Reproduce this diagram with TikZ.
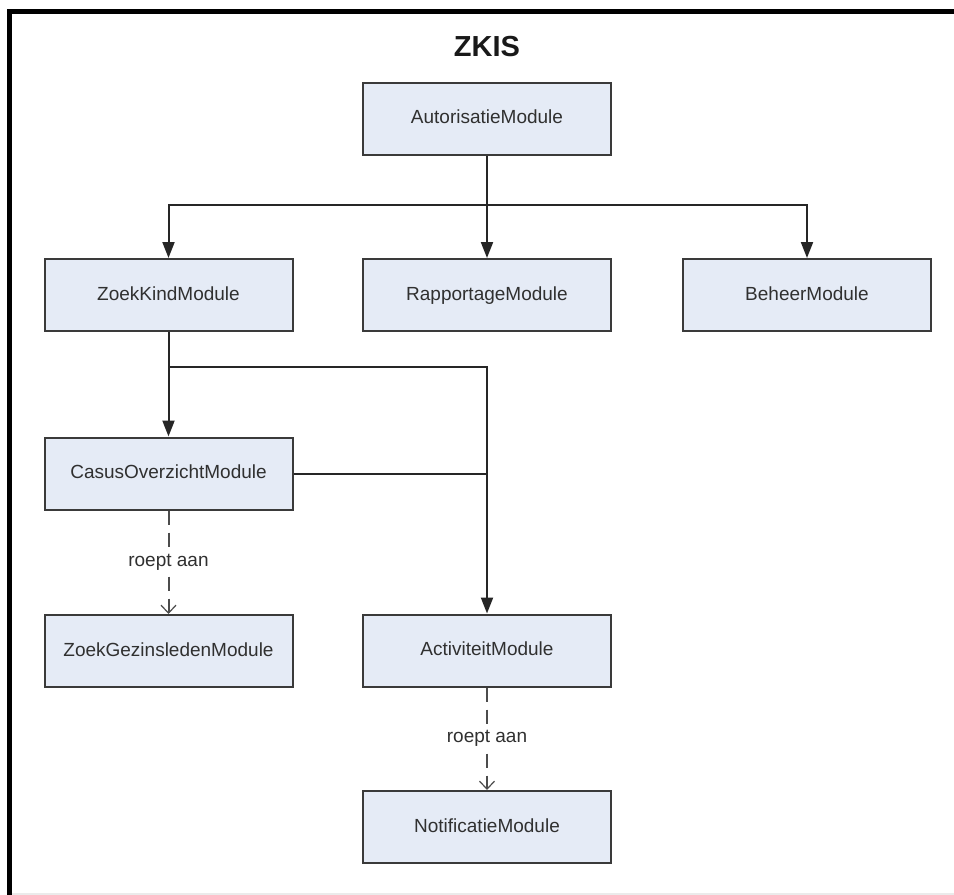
\documentclass[tikz,border=0pt]{standalone}
\usepackage{fontspec}
\setmainfont{Liberation Sans}
\usetikzlibrary{arrows.meta}
\definecolor{boxfill}{HTML}{E5EBF6}
\definecolor{boxline}{HTML}{3A3A3A}
\definecolor{txt}{HTML}{303030}
\tikzset{
  module/.style={draw=boxline, line width=2pt, fill=boxfill, rectangle,
    minimum width=248pt, minimum height=72pt, inner sep=0pt,
    text height=14pt, text depth=4pt,
    font=\fontsize{19}{22}\selectfont, text=txt},
  link/.style={draw=black!85, line width=2pt},
  arr/.style={link, -{Triangle[length=16pt,width=12pt]}},
  callarr/.style={draw=black!70, line width=2pt, dash pattern=on 14pt off 8pt,
    -{Straight Barb[length=8pt,width=15pt,line width=1.2pt]}},
  lbl/.style={fill=white, inner sep=3pt, font=\fontsize{19}{22}\selectfont, text=txt},
}
\begin{document}
\begin{tikzpicture}[x=1pt,y=-1pt]
\useasboundingbox (0,0) rectangle (954,895);
\fill[white] (0,0) rectangle (954,895);
% outer frame, running past the right and bottom edges
\begin{scope}
  \clip (0,0) rectangle (954,895);
  \draw[line width=5pt, black] (9.5,11) rectangle (1000,1000);
  \draw[black!8, line width=2pt] (12,894) -- (954,894);
\end{scope}

\node[font=\bfseries\fontsize{29}{32}\selectfont, text=black!90] (title) at (487,47) {ZKIS};

\node[module] (auth)   at (487,118.5) {AutorisatieModule};
\node[module] (zoek)   at (168.5,295) {ZoekKindModule};
\node[module] (rapp)   at (487,295)   {RapportageModule};
\node[module] (beheer) at (807,295)   {BeheerModule};
\node[module] (casus)  at (168.5,473.5) {CasusOverzichtModule};
\node[module] (gezin)  at (168.5,651) {ZoekGezinsledenModule};
\node[module] (activ)  at (487,650.5) {ActiviteitModule};
\node[module] (notif)  at (487,827)   {NotificatieModule};

\coordinate (j1) at (487,205);
\coordinate (j2) at (168.5,367);

% authorisation fans out to the three top modules
\draw[link] (auth.south) -- (j1);
\draw[arr] (j1) -| (zoek.north);
\draw[arr] (j1) -- (rapp.north);
\draw[arr] (j1) -| (beheer.north);

% ZoekKind leads to the case overview and the activity module
\draw[arr] (zoek.south) -- (casus.north);
\draw[arr] (j2) -| (activ.north);
\draw[link] (casus.east) -- (casus.east -| activ.north);

% call relations
\draw[callarr] (casus.south) -- node[lbl] {roept aan} (gezin.north);
\draw[callarr] (activ.south) -- node[lbl] {roept aan} (notif.north);
\end{tikzpicture}
\end{document}
